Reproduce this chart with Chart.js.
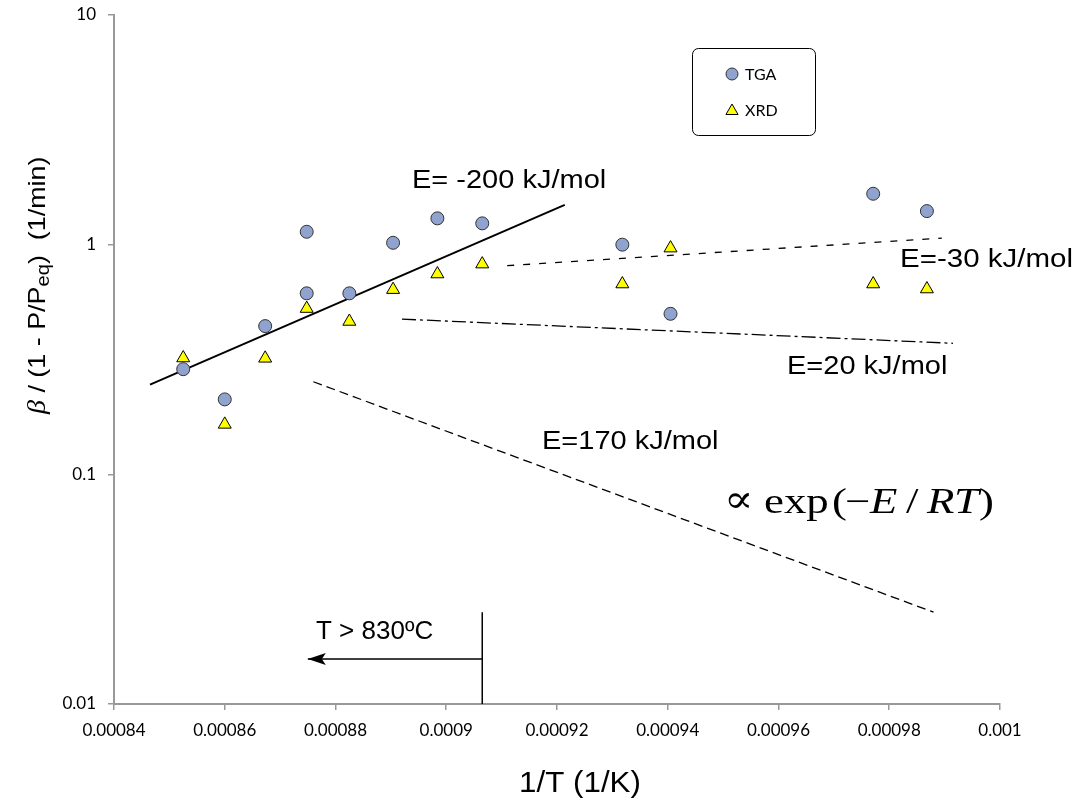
<!DOCTYPE html>
<html>
<head>
<meta charset="utf-8">
<title>Rate vs 1/T</title>
<script src="https://cdn.jsdelivr.net/npm/chart.js@4.4.0/dist/chart.umd.min.js"></script>
<style>
  html, body { margin: 0; padding: 0; background: #fff; }
  #chart { display: block; }
</style>
</head>
<body>
<canvas id="chart" width="1078" height="803"></canvas>
<script>
// Axis ticks
const xTickLabels = ['0.00084', '0.00086', '0.00088', '0.0009', '0.00092', '0.00094', '0.00096', '0.00098', '0.001'];
const yTickLabels = ['0.01', '0.1', '1', '10'];

// TGA measurements (1/T in 1/K, rate in 1/min)
const tgaX = [0.0008525, 0.00086, 0.0008673, 0.0008748, 0.0008748, 0.0008825, 0.0008904, 0.0008984, 0.0009065, 0.0009318, 0.0009405, 0.0009771, 0.0009868];
const tgaY = [0.287, 0.212, 0.442, 1.138, 0.614, 0.614, 1.019, 1.302, 1.238, 1.0, 0.5, 1.666, 1.40];

// XRD measurements
const xrdX = [0.0008525, 0.00086, 0.0008673, 0.0008748, 0.0008825, 0.0008904, 0.0008984, 0.0009065, 0.0009318, 0.0009405, 0.0009771, 0.0009868];
const xrdY = [0.321, 0.165, 0.32, 0.527, 0.463, 0.637, 0.745, 0.823, 0.674, 0.966, 0.674, 0.641];

// Activation energy guide lines (end points)
const fit200X = [0.0008465, 0.0009214];
const fit200Y = [0.246, 1.49];
const fit30X = [0.000911, 0.0009895];
const fit30Y = [0.81, 1.068];
const fit20X = [0.000892, 0.0009915];
const fit20Y = [0.474, 0.372];
const fit170X = [0.000876, 0.000988];
const fit170Y = [0.253, 0.0251];

// T = 830 C marker and arrow
const limitX = [0.0009065, 0.0009065];
const limitY = [0.01, 0.0251];
const arrowX = [0.0009065, 0.000875];
const arrowY = [0.0157, 0.0157];

const pts = (xs, ys) => xs.map((x, i) => ({ x: x, y: ys[i] }));

function guide(xs, ys, dash, width) {
    return {
        data: pts(xs, ys),
        showLine: true,
        borderColor: '#000',
        borderWidth: width,
        borderDash: dash,
        pointRadius: 0,
        pointHoverRadius: 0
    };
}

const SANS = '"Liberation Sans", Arial, sans-serif';
const SERIF = '"Liberation Serif", "DejaVu Serif", serif';

// draw text stretched horizontally a bit, like the original
function drawText(ctx, text, x, y, font, align, stretch) {
    ctx.save();
    ctx.font = font;
    ctx.textAlign = align || 'left';
    ctx.textBaseline = 'alphabetic';
    ctx.translate(x, y);
    ctx.scale(stretch || 1, 1);
    ctx.fillText(text, 0, 0);
    ctx.restore();
}

const annotations = {
    id: 'annotations',
    afterDraw(chart) {
        const ctx = chart.ctx;
        const xs = chart.scales.x, ys = chart.scales.y;
        ctx.save();
        ctx.fillStyle = '#000';

        // arrow head
        const tipX = xs.getPixelForValue(arrowX[1]);
        const tipY = ys.getPixelForValue(arrowY[1]);
        ctx.beginPath();
        ctx.moveTo(tipX, tipY);
        ctx.lineTo(tipX + 18, tipY - 6);
        ctx.lineTo(tipX + 14, tipY);
        ctx.lineTo(tipX + 18, tipY + 6);
        ctx.closePath();
        ctx.fill();

        // labels
        const lab = '25px ' + SANS;
        drawText(ctx, 'E= -200 kJ/mol', 412, 188, lab, 'left', 1.16);
        drawText(ctx, 'E=-30 kJ/mol', 900, 267, lab, 'left', 1.18);
        drawText(ctx, 'E=20 kJ/mol', 787, 374, lab, 'left', 1.16);
        drawText(ctx, 'E=170 kJ/mol', 542, 449, lab, 'left', 1.16);
        drawText(ctx, 'T > 830\u00baC', 316, 639, '26px ' + SANS, 'left', 1);
        drawText(ctx, '1/T (1/K)', 580, 792, '29px ' + SANS, 'center', 1.08);

        // proportional to exp(-E/RT)
        const up = '35px ' + SERIF, it = 'italic 35px ' + SERIF;
        const st = 1.28;
        drawText(ctx, '\u221d', 724, 512, '38px "DejaVu Serif", serif', 'left', 1.15);
        drawText(ctx, 'exp', 764, 513, up, 'left', st);
        drawText(ctx, '(', 832, 513, up, 'left', st);
        drawText(ctx, '\u2212', 845, 513, up, 'left', st);
        drawText(ctx, 'E', 870, 513, it, 'left', st);
        drawText(ctx, '/', 906, 513, up, 'left', st);
        drawText(ctx, 'R', 927, 513, it, 'left', st);
        drawText(ctx, 'T', 954, 513, it, 'left', st);
        drawText(ctx, ')', 979, 513, up, 'left', st);

        // y axis title with subscript
        const parts = [
            { t: '\u03b2', font: 'italic 25px ' + SERIF, dy: 0 },
            { t: ' / (1 - P/P', font: '24px ' + SANS, dy: 0 },
            { t: 'eq', font: '18px ' + SANS, dy: 4 },
            { t: ')  (1/min)', font: '24px ' + SANS, dy: 0 }
        ];
        ctx.save();
        ctx.translate(45, 414);
        ctx.rotate(-Math.PI / 2);
        ctx.scale(1.12, 1);
        ctx.textBaseline = 'alphabetic';
        let px = 0;
        parts.forEach(p => {
            ctx.font = p.font;
            ctx.fillText(p.t, px, p.dy);
            px += ctx.measureText(p.t).width;
        });
        ctx.restore();

        // legend box
        ctx.beginPath();
        ctx.roundRect(692.5, 48.5, 123, 87, 6);
        ctx.strokeStyle = '#000';
        ctx.lineWidth = 1;
        ctx.stroke();

        ctx.beginPath();
        ctx.arc(732, 74, 6, 0, Math.PI * 2);
        ctx.fillStyle = '#8FA3CE';
        ctx.fill();
        ctx.strokeStyle = '#333';
        ctx.stroke();

        const r = 7;
        ctx.beginPath();
        ctx.moveTo(732, 111 - r);
        ctx.lineTo(732 + r * 0.866, 111 + r / 2);
        ctx.lineTo(732 - r * 0.866, 111 + r / 2);
        ctx.closePath();
        ctx.fillStyle = '#FFFF00';
        ctx.fill();
        ctx.strokeStyle = '#000';
        ctx.stroke();

        ctx.fillStyle = '#000';
        ctx.font = '16px Lato, sans-serif';
        ctx.textBaseline = 'middle';
        ctx.fillText('TGA', 745, 75);
        ctx.fillText('XRD', 745, 111);
        ctx.restore();
    }
};

Chart.defaults.color = '#000';

new Chart(document.getElementById('chart'), {
    type: 'scatter',
    data: {
        datasets: [
            {
                label: 'TGA',
                data: pts(tgaX, tgaY),
                pointStyle: 'circle',
                pointRadius: 6.5,
                backgroundColor: '#8FA3CE',
                borderColor: '#333',
                borderWidth: 1
            },
            {
                label: 'XRD',
                data: pts(xrdX, xrdY),
                pointStyle: 'triangle',
                pointRadius: 7.5,
                backgroundColor: '#FFFF00',
                borderColor: '#000',
                borderWidth: 1
            },
            guide(fit200X, fit200Y, [], 2),
            guide(fit30X, fit30Y, [7, 9], 1.3),
            guide(fit20X, fit20Y, [14, 4, 3, 4], 1.3),
            guide(fit170X, fit170Y, [9, 5], 1.3),
            guide(limitX, limitY, [], 1.5),
            guide(arrowX, arrowY, [], 1.5)
        ]
    },
    options: {
        responsive: false,
        animation: false,
        layout: { padding: { top: 15, right: 78, left: 0, bottom: 0 } },
        plugins: {
            legend: { display: false },
            tooltip: { enabled: false }
        },
        scales: {
            x: {
                type: 'linear',
                min: Number(xTickLabels[0]),
                max: Number(xTickLabels[xTickLabels.length - 1]),
                afterBuildTicks: s => { s.ticks = xTickLabels.map(v => ({ value: Number(v) })); },
                afterFit: s => { s.height = 99; },
                grid: { drawOnChartArea: false, drawTicks: true, tickLength: 6, color: '#999', lineWidth: 1.5 },
                border: { color: '#999', width: 2 },
                ticks: {
                    autoSkip: false,
                    maxRotation: 0,
                    padding: 10,
                    font: { family: 'Lato', size: 17 },
                    callback: (v, i) => xTickLabels[i]
                }
            },
            y: {
                type: 'logarithmic',
                min: Number(yTickLabels[0]),
                max: Number(yTickLabels[yTickLabels.length - 1]),
                afterBuildTicks: s => { s.ticks = yTickLabels.map(v => ({ value: Number(v) })); },
                afterFit: s => {
                    s.width = 114;
                    // labels may overhang the top; keep the plot top where the original has it
                    s.paddingTop = 0;
                    s.paddingBottom = 0;
                },
                grid: { drawOnChartArea: false, drawTicks: true, tickLength: 6, color: '#999', lineWidth: 1.5 },
                border: { color: '#999', width: 2 },
                ticks: {
                    autoSkip: false,
                    padding: 12,
                    font: { family: 'Lato', size: 17 },
                    callback: (v, i) => yTickLabels[i]
                }
            }
        }
    },
    plugins: [annotations]
});
</script>
</body>
</html>
